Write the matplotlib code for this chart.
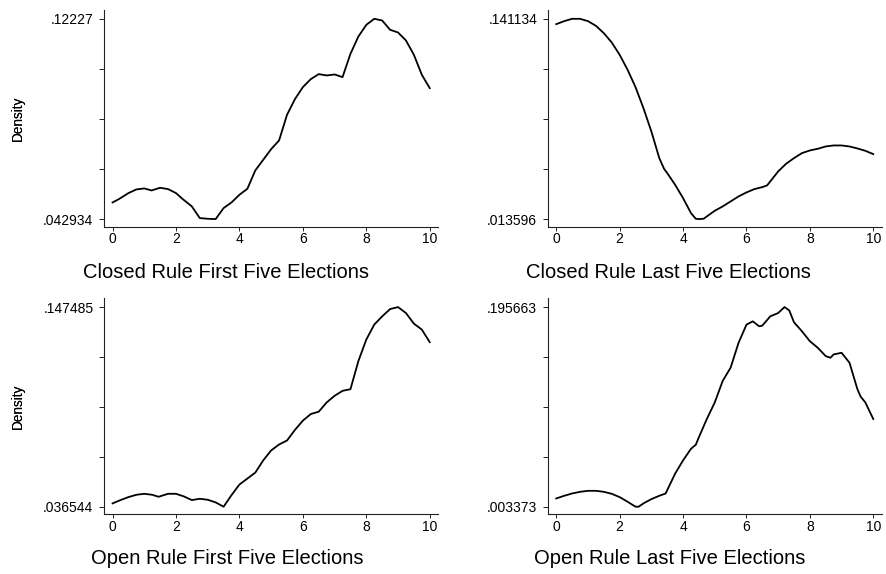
import numpy as np
import matplotlib
matplotlib.use("Agg")
import matplotlib.pyplot as plt

plt.rcParams['font.family'] = ['Liberation Sans', 'DejaVu Sans']

# Kernel density estimates, evaluated on a 0-10 scale
closed_first_x = [0, 0.2, 0.5, 0.75, 1.0, 1.23, 1.5, 1.75, 2.0, 2.2, 2.5, 2.75, 3.0, 3.25,
                  3.5, 3.75, 4.0, 4.25, 4.5, 4.75, 5.0, 5.25, 5.5, 5.75, 6.0, 6.25, 6.5,
                  6.75, 7.0, 7.25, 7.5, 7.75, 8.0, 8.25, 8.5, 8.75, 9.0, 9.25, 9.5, 9.75, 10]
closed_first_y = [0.04953, 0.05085, 0.05323, 0.05468, 0.05508, 0.05428, 0.05534, 0.05481,
                  0.05323, 0.05098, 0.04795, 0.04333, 0.04306, 0.042934, 0.04729, 0.04953,
                  0.05257, 0.05494, 0.06221, 0.06643, 0.07065, 0.07409, 0.08425, 0.09046,
                  0.09521, 0.09838, 0.10036, 0.09983, 0.10022, 0.09917, 0.10841, 0.11527,
                  0.11989, 0.12227, 0.12161, 0.11791, 0.11686, 0.11369, 0.10801, 0.10009,
                  0.09481]

closed_last_x = [0, 0.25, 0.5, 0.75, 1.0, 1.25, 1.5, 1.75, 2.0, 2.25, 2.5, 2.75, 3.0, 3.25,
                 3.4, 3.5, 3.75, 4.0, 4.25, 4.4, 4.5, 4.65, 4.75, 5.0, 5.25, 5.5, 5.75, 6.0,
                 6.25, 6.5, 6.65, 6.75, 7.0, 7.25, 7.5, 7.75, 8.0, 8.25, 8.5, 8.75, 9.0,
                 9.25, 9.5, 9.75, 10]
closed_last_y = [0.13774, 0.13965, 0.141134, 0.14113, 0.13965, 0.13668, 0.13201, 0.12607,
                 0.11822, 0.10867, 0.09763, 0.08426, 0.06941, 0.05243, 0.04564, 0.04288,
                 0.03545, 0.02696, 0.01741, 0.01381, 0.013596, 0.01381, 0.01529, 0.01890,
                 0.02166, 0.02484, 0.02802, 0.03057, 0.03269, 0.03396, 0.03503, 0.03757,
                 0.04394, 0.04882, 0.05243, 0.05561, 0.05731, 0.05837, 0.05985, 0.06049,
                 0.06049, 0.05985, 0.05858, 0.05709, 0.05497]

open_first_x = [0, 0.25, 0.5, 0.75, 1.0, 1.25, 1.45, 1.75, 2.0, 2.25, 2.5, 2.75, 3.0, 3.25,
                3.5, 3.75, 4.0, 4.25, 4.5, 4.75, 5.0, 5.25, 5.5, 5.75, 6.0, 6.25, 6.5,
                6.75, 7.0, 7.25, 7.5, 7.75, 8.0, 8.25, 8.5, 8.75, 9.0, 9.25, 9.5, 9.75, 10]
open_first_y = [0.03839, 0.04023, 0.04188, 0.04317, 0.04372, 0.04317, 0.04206, 0.04372,
                0.04372, 0.04225, 0.04023, 0.04096, 0.04041, 0.03894, 0.036544, 0.04299,
                0.04887, 0.05218, 0.05549, 0.06230, 0.06782, 0.07113, 0.07334, 0.07923,
                0.08438, 0.08806, 0.08935, 0.09449, 0.09818, 0.10094, 0.10186, 0.11750,
                0.12946, 0.13774, 0.14233, 0.14638, 0.147485, 0.14417, 0.13829, 0.13497,
                0.12798]

open_last_x = [0, 0.25, 0.5, 0.75, 1.0, 1.25, 1.5, 1.75, 2.0, 2.25, 2.5, 2.6, 2.75, 3.0,
               3.25, 3.45, 3.5, 3.75, 4.0, 4.25, 4.4, 4.5, 4.75, 5.0, 5.25, 5.5, 5.75,
               6.0, 6.2, 6.4, 6.5, 6.75, 7.0, 7.2, 7.35, 7.5, 7.75, 8.0, 8.25, 8.5, 8.65,
               8.75, 9.0, 9.25, 9.5, 9.6, 9.75, 10]
open_last_y = [0.01134, 0.01389, 0.01612, 0.01772, 0.01868, 0.01868, 0.01772, 0.01581,
               0.01262, 0.00815, 0.003373, 0.00340, 0.00656, 0.01070, 0.01389, 0.01612,
               0.01931, 0.03526, 0.04801, 0.05918, 0.06300, 0.07034, 0.08788, 0.10382,
               0.12455, 0.13730, 0.16122, 0.17876, 0.18195, 0.17716, 0.17780, 0.18673,
               0.18992, 0.195663, 0.19247, 0.18099, 0.17238, 0.16281, 0.15644, 0.14846,
               0.14687, 0.15006, 0.15165, 0.14209, 0.11658, 0.10956, 0.10382, 0.08788]

titles = ["Closed Rule First Five Elections", "Closed Rule Last Five Elections",
          "Open Rule First Five Elections", "Open Rule Last Five Elections"]
x_ticks = [0, 2, 4, 6, 8, 10]

series = [(closed_first_x, closed_first_y), (closed_last_x, closed_last_y),
          (open_first_x, open_first_y), (open_last_x, open_last_y)]

W, H = 887, 574
fig = plt.figure(figsize=(W / 100, H / 100), dpi=100)
fig.patch.set_facecolor('white')

# panel frames in pixels: (left, top, right, bottom)
frames = [(104, 10, 438, 226.7), (547.7, 10, 881.5, 226.7),
          (104, 298.3, 438, 514.3), (547.7, 298.3, 881.5, 514.3)]
title_pos = [(226, 272), (668, 272), (227, 558), (670, 558)]


def stata_label(v):
    s = f"{v:.6f}".rstrip('0')
    return s[1:] if s.startswith('0') else s


for (xs, ys), (l, t, r, b), title, (tx, ty) in zip(series, frames, titles, title_pos):
    ax = fig.add_axes([l / W, 1 - b / H, (r - l) / W, (b - t) / H])
    ax.plot(xs, ys, color='black', lw=1.3, solid_joinstyle='round', antialiased=True)
    lo, hi = min(ys), max(ys)
    rng = hi - lo
    ax.set_ylim(lo - 0.038 * rng, hi + 0.044 * rng)
    ax.set_xlim(-0.27, 10.26)
    yt = np.linspace(lo, hi, 5)
    ax.set_yticks(yt)
    ax.set_yticklabels([stata_label(lo), '', '', '', stata_label(hi)])
    ax.set_xticks(x_ticks)
    ax.set_xticklabels([str(v) for v in x_ticks])
    for side in ('top', 'right'):
        ax.spines[side].set_visible(False)
    for side in ('left', 'bottom'):
        ax.spines[side].set_linewidth(0.8)
        ax.spines[side].set_color('#222222')
    ax.tick_params(axis='y', length=3.6, width=0.7, pad=4.0, labelsize=10, color='#222222')
    ax.tick_params(axis='x', length=2.9, width=0.7, pad=1.0, labelsize=10, color='#222222')
    ax.set_ylabel('Density', fontsize=9.8, va='center')
    ax.yaxis.set_label_coords((18 - l) / (r - l), 0.5)
    fig.text(tx / W, 1 - ty / H, title, fontsize=14.5, ha='center', va='center')

fig.savefig('out.png', dpi=100)
